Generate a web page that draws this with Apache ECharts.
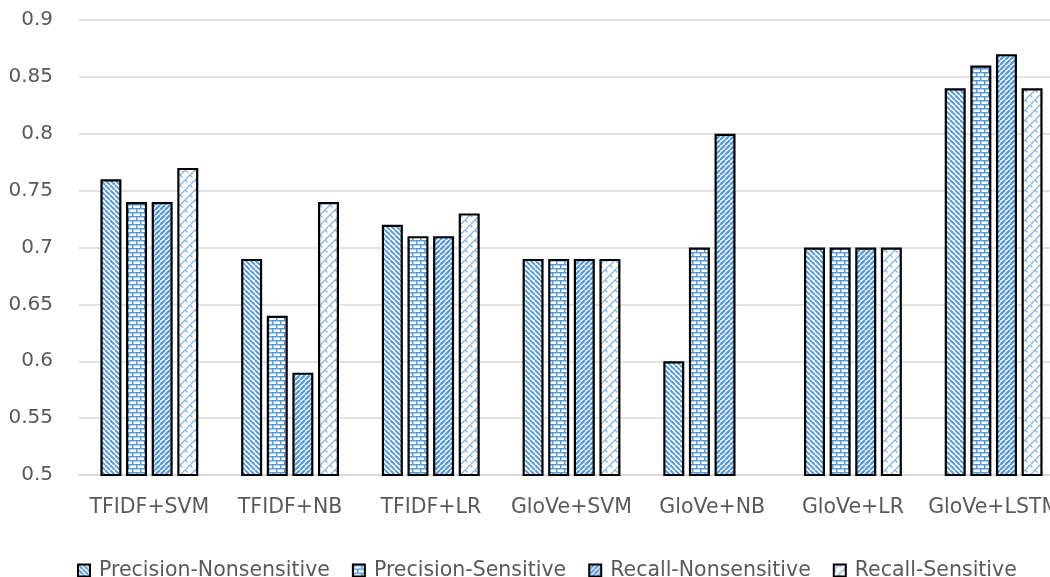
<!DOCTYPE html>
<html><head><meta charset="utf-8">
<script src="https://cdn.jsdelivr.net/npm/echarts@6/dist/echarts.min.js"></script>
<style>html,body{margin:0;padding:0;background:#fff;overflow:hidden;width:1050px;height:577px}#c{width:1075px;height:577px}</style>
</head><body><div id="c"></div>
<script>
const categories = ['TFIDF+SVM','TFIDF+NB','TFIDF+LR','GloVe+SVM','GloVe+NB','GloVe+LR','GloVe+LSTM'];
const precisionNonsensitive = [0.76, 0.69, 0.72, 0.69, 0.60, 0.70, 0.84];
const precisionSensitive    = [0.74, 0.64, 0.71, 0.69, 0.70, 0.70, 0.86];
const recallNonsensitive    = [0.74, 0.59, 0.71, 0.69, 0.80, 0.70, 0.87];
const recallSensitive       = [0.77, 0.74, 0.73, 0.69, 0.50, 0.70, 0.84];
const seriesNames = ['Precision-Nonsensitive','Precision-Sensitive','Recall-Nonsensitive','Recall-Sensitive'];
const yTicks = [0.5,0.55,0.6,0.65,0.7,0.75,0.8,0.85,0.9];

const BLUE = '#5b9bd5';
function tile(w,h,draw){const c=document.createElement('canvas');c.width=w;c.height=h;const g=c.getContext('2d');g.fillStyle='#fff';g.fillRect(0,0,w,h);draw(g,w,h);return {image:c,repeat:'repeat'};}
function diag(down,lw,col,s){return tile(s,s,(g,w,h)=>{g.strokeStyle=col;g.lineWidth=lw;g.beginPath();
  for(let k=-2;k<=2;k++){ if(down){g.moveTo(k*w,0);g.lineTo(k*w+w,h);} else {g.moveTo(k*w,h);g.lineTo(k*w+w,0);} }
  g.stroke();});}
const pNon = diag(true,2,BLUE,5);
const rNon = diag(false,2.4,BLUE,5);
const pSen = tile(8,8,(g)=>{g.fillStyle=BLUE;g.fillRect(0,0,8,1.5);g.fillRect(0,4,8,1.5);g.fillRect(0,0,1.5,4);g.fillRect(4,4,1.5,4);});
const rSen = tile(10,10,(g)=>{g.strokeStyle='#7fb0df';g.lineWidth=1.2;g.beginPath();
  g.moveTo(0,5);g.lineTo(5,0);g.moveTo(5,10);g.lineTo(10,5);
  g.moveTo(0,5);g.lineTo(2.5,7.5);g.moveTo(5,0);g.lineTo(7.5,2.5);g.moveTo(5,10);g.lineTo(7.5,12.5);g.moveTo(-5,5);g.lineTo(-2.5,7.5);
  g.stroke();});
const fills=[pNon,pSen,rNon,rSen];
const datas=[precisionNonsensitive,precisionSensitive,recallNonsensitive,recallSensitive];

const chart = echarts.init(document.getElementById('c'));
const font = '"DejaVu Sans", sans-serif';
chart.setOption({
  animation:false,
  grid:{left:79,width:985,top:20,bottom:102,containLabel:false},
  legend:{top:555,left:72,icon:'rect',itemWidth:12,itemHeight:12,itemGap:22,
    textStyle:{color:'#595959',fontSize:20.5,fontFamily:font,padding:[0,0,0,4]},
    data:seriesNames},
  xAxis:{type:'category',data:categories,
    axisLine:{show:true,lineStyle:{color:'#d9d9d9',width:1.5}},axisTick:{show:false},
    axisLabel:{color:'#595959',fontSize:20.5,fontFamily:font,margin:22,interval:0}},
  yAxis:{type:'value',min:0.5,max:0.9,interval:0.05,
    axisLine:{show:false},axisTick:{show:false},
    splitLine:{lineStyle:{color:'#d9d9d9',width:1.5}},
    axisLabel:{color:'#595959',fontSize:20,fontFamily:font,margin:26,
      formatter:v=>{const t=yTicks.find(x=>Math.abs(x-v)<1e-6);return t===undefined?'':String(t);}}},
  series: seriesNames.map((n,i)=>({name:n,type:'bar',data:datas[i],barWidth:21,barGap:'22%',
    itemStyle:{color:fills[i],borderColor:'#000',borderWidth:2.2}}))
});
</script></body></html>
